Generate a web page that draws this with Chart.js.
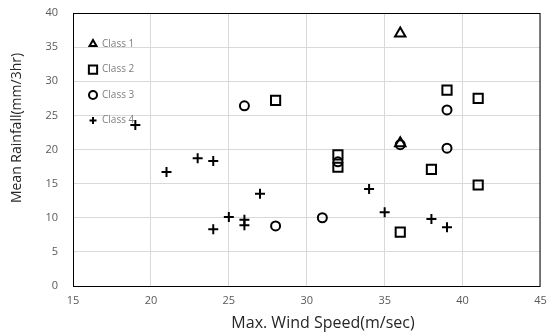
<!DOCTYPE html>
<html lang="en">
<head>
<meta charset="UTF-8">
<script src="https://cdn.jsdelivr.net/npm/chart.js"></script>
<title>Wind speed vs rainfall</title>
<style>
  html, body { margin: 0; padding: 0; background: #fff; }
</style>
</head>
<body>
<canvas id="myChart" width="549" height="336"></canvas>

<script>
// data: [wind speed, rainfall]
const classNames = ['Class 1', 'Class 2', 'Class 3', 'Class 4'];

const class1X = [36, 36];
const class1Y = [37, 20.9];

const class2X = [28, 32, 32, 36, 38, 39, 41, 41];
const class2Y = [27.2, 19.2, 17.4, 7.9, 17.1, 28.7, 27.5, 14.8];

const class3X = [26, 28, 31, 32, 36, 39, 39];
const class3Y = [26.4, 8.8, 10, 18.2, 20.7, 25.8, 20.2];

const class4X = [19, 21, 23, 24, 24, 25, 26, 26, 27, 34, 35, 38, 39];
const class4Y = [23.6, 16.7, 18.7, 18.3, 8.3, 10.1, 9.7, 8.9, 13.5, 14.2, 10.8, 9.8, 8.6];

const xTicks = [15, 20, 25, 30, 35, 40, 45];
const yTicks = [0, 5, 10, 15, 20, 25, 30, 35, 40];

const xTitle = 'Max. Wind Speed(m/sec)';
const yTitle = 'Mean Rainfall(mm/3hr)';

function pts(xs, ys) {
  return xs.map((x, i) => ({ x: x, y: ys[i] }));
}

const styles = [
  { pointStyle: 'triangle', radius: 6 },
  { pointStyle: 'rect', radius: 6.5 },
  { pointStyle: 'circle', radius: 4.5 },
  { pointStyle: 'cross', radius: 5 }
];

const series = [pts(class1X, class1Y), pts(class2X, class2Y), pts(class3X, class3Y), pts(class4X, class4Y)];

const data = {
  datasets: series.map((d, i) => ({
    label: classNames[i],
    data: d,
    pointStyle: styles[i].pointStyle,
    pointRadius: styles[i].radius,
    pointHoverRadius: styles[i].radius,
    borderColor: '#000',
    backgroundColor: 'rgba(0,0,0,0)',
    borderWidth: 2
  }))
};

// box around plot, axis titles, legend inside the plot area
const framePlugin = {
  id: 'frame',
  afterDraw(chart) {
    const ctx = chart.ctx;
    const a = chart.chartArea;
    ctx.save();
    ctx.strokeStyle = '#000';
    ctx.lineWidth = 1;
    ctx.strokeRect(a.left + 0.5, a.top + 0.5, a.right - a.left - 1, a.bottom - a.top);

    // axis titles (sit a bit off-centre in the original)
    ctx.fillStyle = '#262626';
    ctx.textAlign = 'center';
    ctx.textBaseline = 'middle';
    ctx.font = '16px "Open Sans"';
    ctx.fillText(xTitle, 323, 323);
    ctx.save();
    ctx.translate(17, 128);
    ctx.rotate(-Math.PI / 2);
    ctx.font = '14px "Open Sans"';
    ctx.fillText(yTitle, 0, 0);
    ctx.restore();

    // legend
    const sizes = [4, 5.5, 4, 3.5];
    ctx.font = '10px "Open Sans"';
    ctx.textAlign = 'left';
    for (let i = 0; i < classNames.length; i++) {
      const cx = a.left + 20;
      const cy = a.top + 31 + i * 25.5;
      ctx.beginPath();
      ctx.lineWidth = 2;
      ctx.strokeStyle = '#000';
      const r = sizes[i];
      if (styles[i].pointStyle === 'triangle') {
        ctx.moveTo(cx, cy - r);
        ctx.lineTo(cx + r * 0.87, cy + r * 0.5);
        ctx.lineTo(cx - r * 0.87, cy + r * 0.5);
        ctx.closePath();
      } else if (styles[i].pointStyle === 'rect') {
        ctx.rect(cx - r * 0.75, cy - r * 0.75, r * 1.5, r * 1.5);
      } else if (styles[i].pointStyle === 'circle') {
        ctx.arc(cx, cy, r, 0, Math.PI * 2);
      } else {
        ctx.moveTo(cx - r, cy); ctx.lineTo(cx + r, cy);
        ctx.moveTo(cx, cy - r); ctx.lineTo(cx, cy + r);
      }
      ctx.stroke();
      ctx.fillStyle = '#808080';
      ctx.fillText(classNames[i], cx + 9, cy);
    }
    ctx.restore();
  }
};

const config = {
  type: 'scatter',
  data: data,
  options: {
    responsive: false,
    animation: false,
    layout: { padding: { left: 0, right: 8, top: 13, bottom: 0 } },
    plugins: {
      legend: { display: false },
      tooltip: { enabled: false }
    },
    scales: {
      x: {
        type: 'linear',
        min: 15,
        max: 45,
        afterBuildTicks: (s) => { s.ticks = xTicks.map(v => ({ value: v })); },
        afterFit: (s) => { s.height = 50; s.paddingLeft = 0; s.paddingRight = 0; },
        grid: { color: '#d9d9d9', drawTicks: false },
        border: { display: false },
        ticks: { color: '#595959', font: { family: 'Open Sans', size: 11 }, padding: 8 }
      },
      y: {
        type: 'linear',
        min: 0,
        max: 40,
        afterBuildTicks: (s) => { s.ticks = yTicks.map(v => ({ value: v })); },
        afterFit: (s) => { s.width = 73; s.paddingTop = 0; s.paddingBottom = 0; },
        grid: { color: '#d9d9d9', drawTicks: false },
        border: { display: false },
        ticks: { color: '#595959', font: { family: 'Open Sans', size: 11 }, padding: 15 }
      }
    }
  },
  plugins: [framePlugin]
};

const myChart = new Chart(document.getElementById('myChart'), config);
</script>
</body>
</html>
